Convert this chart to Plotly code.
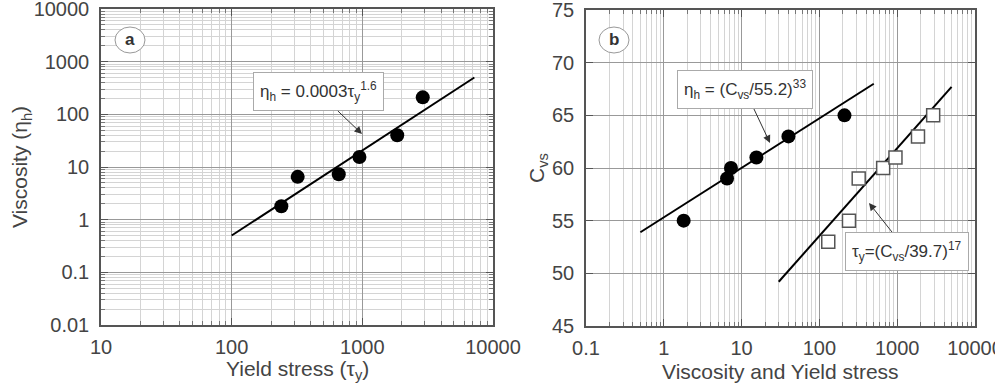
import plotly.graph_objects as go

# Panel a data
yield_a = [240, 320, 660, 950, 1850, 2900]
visc_a = [1.8, 6.5, 7.3, 15.5, 40, 210]
fit_a_x = [100, 7200]
fit_a_y = [0.5, 500]

# Panel b data
visc_b = [1.8, 6.5, 7.3, 15.5, 40, 210]
cvs_visc = [55, 59, 60, 61, 63, 65]
yield_b = [130, 240, 320, 660, 950, 1850, 2900]
cvs_yield = [53, 55, 59, 60, 61, 63, 65]
fit_b1_x = [0.5, 500]
fit_b1_y = [53.9, 68.0]
fit_b2_x = [30, 5000]
fit_b2_y = [49.2, 67.7]

# Tick labels
ticks_a_x = [10, 100, 1000, 10000]
ticks_a_y = [0.01, 0.1, 1, 10, 100, 1000, 10000]
ticks_b_x = [0.1, 1, 10, 100, 1000, 10000]

W, H = 995, 384
fig = go.Figure()

fig.add_trace(go.Scatter(x=fit_a_x, y=fit_a_y, mode="lines", line=dict(color="black", width=2),
                         xaxis="x", yaxis="y", showlegend=False))
fig.add_trace(go.Scatter(x=yield_a, y=visc_a, mode="markers",
                         marker=dict(color="black", size=14, symbol="circle"),
                         xaxis="x", yaxis="y", showlegend=False))
fig.add_trace(go.Scatter(x=fit_b1_x, y=fit_b1_y, mode="lines", line=dict(color="black", width=2),
                         xaxis="x2", yaxis="y2", showlegend=False))
fig.add_trace(go.Scatter(x=fit_b2_x, y=fit_b2_y, mode="lines", line=dict(color="black", width=2),
                         xaxis="x2", yaxis="y2", showlegend=False))
fig.add_trace(go.Scatter(x=visc_b, y=cvs_visc, mode="markers",
                         marker=dict(color="black", size=14, symbol="circle"),
                         xaxis="x2", yaxis="y2", showlegend=False))
fig.add_trace(go.Scatter(x=yield_b, y=cvs_yield, mode="markers",
                         marker=dict(color="white", size=13, symbol="square",
                                     line=dict(color="#555", width=1.5)),
                         xaxis="x2", yaxis="y2", showlegend=False))

FONT = "Liberation Sans, Arial"
tickfont = dict(family=FONT, size=20, color="#444")
titlefont = dict(family=FONT, size=21, color="#444")


def fmt(v):
    return ("%g" % v) if v < 1 else str(int(v))


def logaxis(domain, rng, anchor, title, standoff, tv, lstand):
    return dict(type="log", domain=domain, range=rng, anchor=anchor, automargin=False,
                tickmode="array", tickvals=tv, ticktext=[fmt(v) for v in tv],
                showline=True, linecolor="#555", linewidth=1.5, mirror="allticks",
                ticks="inside", ticklen=7, tickcolor="#555",
                showgrid=True, gridcolor="#999", gridwidth=1,
                minor=dict(dtick="D1", showgrid=True, gridcolor="#d4d4d4", gridwidth=1,
                           ticks="inside", ticklen=4, tickcolor="#777"),
                tickfont=tickfont, zeroline=False, ticklabelstandoff=lstand,
                ticklabeloverflow="allow",
                title=dict(text=title, font=titlefont, standoff=standoff))


xa_dom = [101 / W, 493 / W]
ya_dom = [1 - 325 / H, 1 - 9 / H]
xb_dom = [586 / W, 975 / W]
yb_dom = [1 - 326 / H, 1 - 10 / H]

fig.update_layout(
    width=W, height=H, margin=dict(l=0, r=0, t=0, b=0, autoexpand=False),
    paper_bgcolor="white", plot_bgcolor="white",
    xaxis=logaxis(xa_dom, [1, 4], "y", "", 0, ticks_a_x, 3),
    yaxis=logaxis(ya_dom, [-2, 4], "x", "Viscosity (η<sub>h</sub>)", 0, ticks_a_y, 6),
    xaxis2=logaxis(xb_dom, [-1, 4], "y2", "", 0, ticks_b_x, 3),
    yaxis2=dict(domain=yb_dom, range=[45, 75], anchor="x2", dtick=5, automargin=False,
                showline=True, linecolor="#555", linewidth=1.5, mirror="allticks",
                ticks="inside", ticklen=7, tickcolor="#555",
                showgrid=True, gridcolor="#999", zeroline=False,
                tickfont=tickfont, ticklabelstandoff=6, ticklabeloverflow="allow",
                title=dict(text="C<sub>vs</sub>", font=titlefont, standoff=2)),
)

# x-axis titles, placed at the bottom edge below the tick labels
for txt, dom in [("Yield stress (τ<sub>y</sub>)", xa_dom), ("Viscosity and Yield stress", xb_dom)]:
    fig.add_annotation(xref="paper", yref="paper", x=(dom[0] + dom[1]) / 2, y=0,
                       xanchor="center", yanchor="bottom", text=txt, showarrow=False,
                       font=titlefont, borderpad=0)

annfont = dict(family=FONT, size=17, color="#333")
common = dict(xref="paper", yref="paper", showarrow=True, arrowhead=2, arrowsize=1.5,
              arrowwidth=1, arrowcolor="#333", bgcolor="white", bordercolor="#aaa",
              borderwidth=1, borderpad=6, font=annfont)
fig.add_annotation(x=362 / W, y=1 - 134 / H, ax=-44, ay=-42,
                   text="η<sub>h</sub> = 0.0003τ<sub>y</sub><sup>1.6</sup>", **common)
fig.add_annotation(x=770 / W, y=1 - 143 / H, ax=-25, ay=-53,
                   text="η<sub>h</sub> = (C<sub>vs</sub>/55.2)<sup>33</sup>", **common)
fig.add_annotation(x=869 / W, y=1 - 203 / H, ax=38, ay=48,
                   text="τ<sub>y</sub>=(C<sub>vs</sub>/39.7)<sup>17</sup>", **common)

for label, cx, cy in [("a", 130, 40), ("b", 614, 40)]:
    fig.add_shape(type="circle", xref="paper", yref="paper",
                  x0=(cx - 15) / W, x1=(cx + 15) / W, y0=1 - (cy + 13) / H, y1=1 - (cy - 13) / H,
                  line=dict(color="#999", width=1), fillcolor="white")
    fig.add_annotation(xref="paper", yref="paper", x=cx / W, y=1 - cy / H,
                       xanchor="center", yanchor="middle", text="<b>%s</b>" % label,
                       showarrow=False, font=dict(family=FONT, size=17, color="#333"))

fig.write_html("out.html")
